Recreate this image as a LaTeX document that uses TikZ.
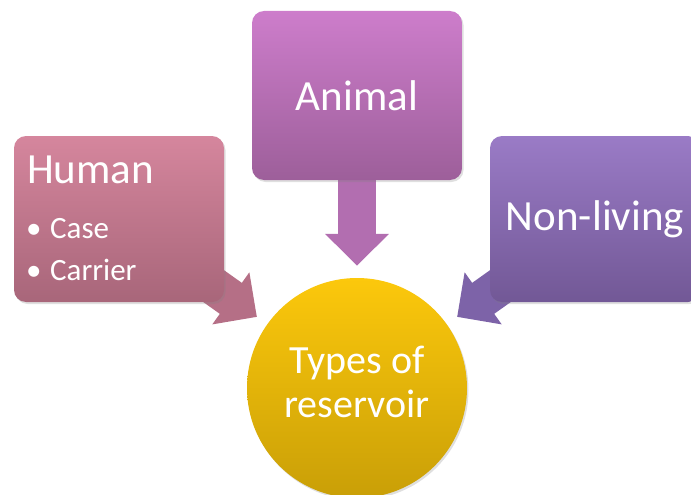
\documentclass[tikz,border=0pt]{standalone}
\usepackage{fontspec}
\setmainfont{Carlito}
\usetikzlibrary{arrows.meta,shadows}
\definecolor{humtop}{HTML}{D5869D}
\definecolor{humbot}{HTML}{A8667A}
\definecolor{humarr}{HTML}{B56F86}
\definecolor{anitop}{HTML}{CD7DCB}
\definecolor{anibot}{HTML}{9D5F9A}
\definecolor{aniarr}{HTML}{B26EB0}
\definecolor{nontop}{HTML}{9A7BC6}
\definecolor{nonbot}{HTML}{725896}
\definecolor{nonarr}{HTML}{7D63A8}
\definecolor{restop}{HTML}{FCC80C}
\definecolor{resbot}{HTML}{C99F07}
\pgfdeclarelayer{bg}
\pgfsetlayers{bg,main}

\begin{document}
\begin{tikzpicture}[x=1pt, y=-1pt,
	box/.style={rectangle, rounded corners=12pt, minimum width=210pt, inner sep=0pt, text=white,
		drop shadow={shadow xshift=1.5pt, shadow yshift=-2pt, opacity=0.25}},
	bigtext/.style={font=\fontsize{43}{44}\selectfont, text=white},
	smalltext/.style={font=\fontsize{31}{42}\selectfont, text=white},
	blockarrow/.style={line width=38pt, -{Triangle[width=62pt, length=32pt]}},
	]
	\path[use as bounding box, clip] (0,0) rectangle (691,495);

	\node[box, minimum height=166pt, top color=humtop, bottom color=humbot] (human) at (119.00, 219.00) {};
	\node[box, minimum height=169pt, top color=anitop, bottom color=anibot, bigtext] (animal) at (357.00, 95.50) {Animal};
	\node[box, minimum height=166pt, top color=nontop, bottom color=nonbot, bigtext] (nonliving) at (595.00, 219.00) {Non-living};
	\node[circle, minimum size=220pt, inner sep=0pt, top color=restop, bottom color=resbot, bigtext, font=\fontsize{40}{44}\selectfont,
		align=center, text depth=12pt, drop shadow={shadow xshift=1.5pt, shadow yshift=-2pt, opacity=0.25}] (res) at (357.00, 388.00) {Types of\\reservoir};

	\node[bigtext, anchor=base west, inner sep=0pt] (humantitle) at (27.00, 183.00) {Human};
	\node[smalltext, anchor=base west, inner sep=0pt] (case) at (26.00, 238.00) {\makebox[24pt][l]{\textbullet}Case};
	\node[smalltext, anchor=base west, inner sep=0pt] (carrier) at (26.00, 280.00) {\makebox[24pt][l]{\textbullet}Carrier};

	\begin{pgfonlayer}{bg}
		\draw[blockarrow, draw=humarr, fill=humarr, shorten <=-40pt, shorten >=12.6pt] (human) -- (res);
		\draw[blockarrow, draw=aniarr, fill=aniarr, shorten <=-40pt, shorten >=12pt] (animal) -- (res);
		\draw[blockarrow, draw=nonarr, fill=nonarr, shorten <=-40pt, shorten >=12.6pt] (nonliving) -- (res);
	\end{pgfonlayer}
\end{tikzpicture}
\end{document}
